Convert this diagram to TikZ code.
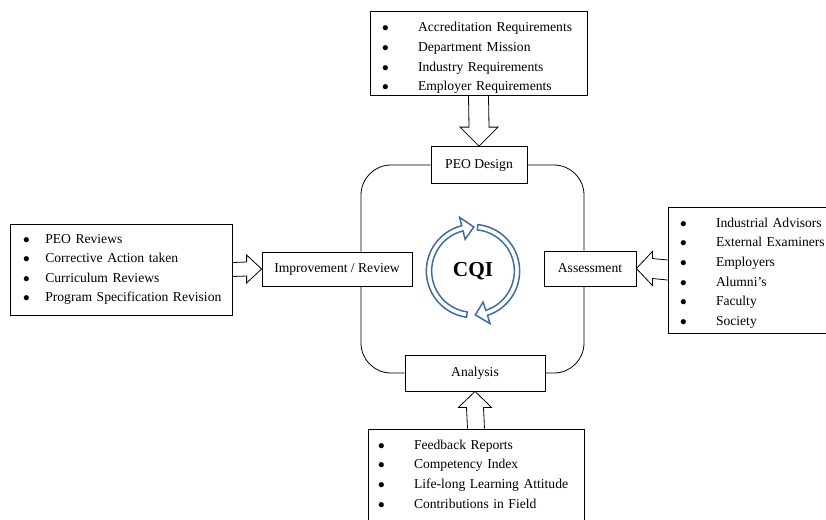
\documentclass[tikz,border=0pt]{standalone}
\usepackage{fontspec}
\setmainfont{Liberation Serif}
\usetikzlibrary{calc}
\definecolor{cqiblue}{HTML}{3E6A9E}
\newcommand{\bitem}[2][22pt]{\mbox{$\bullet$\hspace{#1}#2}}
\begin{document}
\begin{tikzpicture}[x=0.75pt, y=-0.75pt, line width=0.6pt,
    box/.style = {draw, fill=white, inner sep=0pt, font=\fontsize{10.2}{14.7}\selectfont},
    listbox/.style = {draw, fill=white, align=left, inner xsep=9pt, inner ysep=0pt, font=\fontsize{10.2}{14.7}\selectfont},
    blockarrow/.style = {draw, line join=miter},
    cqiarrow/.style = {draw=cqiblue, fill=white, line width=1.1pt, line join=miter}]
    \useasboundingbox (0,0) rectangle (826,519);
    \clip (0,0) rectangle (826,519);
    % stages of the loop
    \node[box, minimum width=72pt, minimum height=27.75pt] (peo) at (479,165) {PEO Design};
    \node[box, minimum width=112.5pt, minimum height=25.5pt] (improve) at (337,269) {Improvement / Review};
    \node[box, minimum width=69pt, minimum height=26.25pt] (assess) at (590,268.5) {Assessment};
    \node[box, minimum width=105pt, minimum height=27pt] (analysis) at (475,373) {Analysis};
    % input lists
    \node[listbox, text width=144.75pt, minimum height=63pt] (req) at (478.5,53) {\rule{0pt}{14.5pt}\bitem{Accreditation Requirements}\\ \bitem{Department Mission}\\ \bitem{Industry Requirements}\\ \bitem{Employer Requirements}};
    \node[listbox, text width=147pt, minimum height=68.25pt, inner xsep=9.75pt] (review) at (121,269.5) {\bitem[11.75pt]{PEO Reviews}\\ \bitem[11.75pt]{Corrective Action taken}\\ \bitem[11.75pt]{Curriculum Reviews}\\ \bitem[11.75pt]{Program Specification Revision}};
    \node[listbox, text width=105pt, minimum height=94.5pt] (stake) at (750,270) {\rule{0pt}{11.5pt}\bitem{Industrial Advisors}\\ \bitem{External Examiners}\\ \bitem{Employers}\\ \bitem{Alumni’s}\\ \bitem{Faculty}\\ \bitem{Society}};
    \node[listbox, text width=147pt, minimum height=70.5pt, inner xsep=7.5pt] (data) at (476,476) {\bitem{Feedback Reports}\\ \bitem{Competency Index}\\ \bitem{Life-long Learning Attitude}\\ \bitem{Contributions in Field}\rule[-3pt]{0pt}{0pt}};
    % rounded loop
    \draw[rounded corners=22.5pt] (peo.east) -| ([xshift=-4.5pt]assess.north);
    \draw[rounded corners=22.5pt] ([xshift=-4.5pt]assess.south) |- (analysis.east);
    \draw[rounded corners=22.5pt] (analysis.west) -| ([xshift=18pt]improve.south);
    \draw[rounded corners=22.5pt] ([xshift=18pt]improve.north) |- (peo.west);
    % block arrows
    \draw[blockarrow] ($(req.south)+(-10,0)$) -- ($(peo.north)+(-10,-19)$) -- ($(peo.north)+(-19,-19)$) -- (peo.north) -- ($(peo.north)+(19,-19)$) -- ($(peo.north)+(10,-19)$) -- ($(req.south)+(10,0)$);
    \draw[blockarrow] ($(data.north)+(-8.5,0)$) -- ($(analysis.south)+(-8.5,16)$) -- ($(analysis.south)+(-16.5,16)$) -- (analysis.south) -- ($(analysis.south)+(16.5,16)$) -- ($(analysis.south)+(8.5,16)$) -- ($(data.north)+(8.5,0)$);
    \draw[blockarrow] ($(review.east)+(0,-7)$) -- ($(improve.west)+(-15,-7)$) -- ($(improve.west)+(-15,-14)$) -- (improve.west) -- ($(improve.west)+(-15,14)$) -- ($(improve.west)+(-15,7)$) -- ($(review.east)+(0,7)$);
    \draw[blockarrow] ($(stake.west)+(0,-10)$) -- ($(assess.east)+(16,-10)$) -- ($(assess.east)+(16,-17)$) -- (assess.east) -- ($(assess.east)+(16,17)$) -- ($(assess.east)+(16,10)$) -- ($(stake.west)+(0,10)$);
    % CQI cycle
    \coordinate (cqi) at (473,271);
    \begin{scope}[shift={(cqi)}]
        \draw[cqiarrow] (262:35pt) arc[start angle=262, end angle=104, radius=35pt] -- (104:41.5pt) -- (89:33pt) -- (104:24.5pt) -- (104:31pt) arc[start angle=104, end angle=262, radius=31pt] -- cycle;
        \draw[cqiarrow] (84:35pt) arc[start angle=84, end angle=-72, radius=35pt] -- (-72:41.5pt) -- (-87:33pt) -- (-72:24.5pt) -- (-72:31pt) arc[start angle=-72, end angle=84, radius=31pt] -- cycle;
    \end{scope}
    \node[font=\fontsize{16}{18}\selectfont\bfseries] (cqilabel) at (cqi) {CQI};
\end{tikzpicture}
\end{document}
